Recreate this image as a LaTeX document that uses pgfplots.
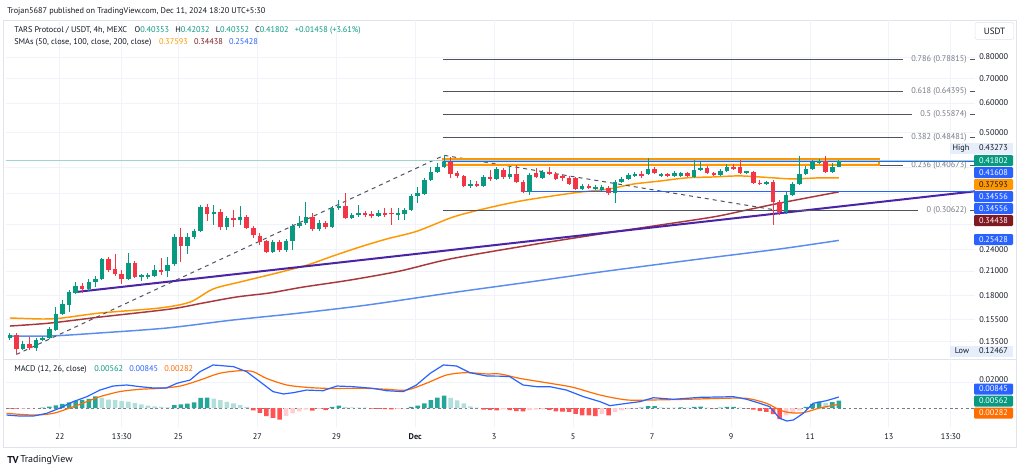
\documentclass[border=0pt]{standalone}
\usepackage{fontspec}
\setmainfont{PT Sans}
\usepackage{pgfplots}
\usepackage{pgfplotstable}
\pgfplotsset{compat=1.18}

\definecolor{tvgreen}{HTML}{089981}
\definecolor{tvred}{HTML}{F23645}
\definecolor{histdark}{HTML}{26A69A}
\definecolor{histlight}{HTML}{B2DFDB}
\definecolor{histred}{HTML}{FF5252}
\definecolor{histpink}{HTML}{FFCDD2}
\definecolor{tvblue}{HTML}{2962FF}
\definecolor{tvorange}{HTML}{FF9800}
\definecolor{macdorange}{HTML}{FF6D00}
\definecolor{tvmaroon}{HTML}{801922}
\definecolor{sma100}{HTML}{A8383B}
\definecolor{sma200}{HTML}{5B8DEF}
\definecolor{tvpurple}{HTML}{4A23A6}
\definecolor{tvgrid}{HTML}{F0F3FA}
\definecolor{tvframe}{HTML}{E0E3EB}
\definecolor{tvtext}{HTML}{131722}
\definecolor{tvgray}{HTML}{787B86}
\definecolor{fibgray}{HTML}{50535E}
\definecolor{hlbg}{HTML}{E6EEFB}

\newcommand\tvf{\fontsize{6.2}{7.4}\selectfont}

% 4h candles, k = candle index (k=126 is Dec 11 17:30)
\pgfplotstableread{
k o h l c
0 0.1382 0.1426 0.1364 0.1408
1 0.1408 0.1426 0.12467 0.1290
2 0.1290 0.1356 0.1282 0.1330
3 0.1330 0.1390 0.1282 0.1298
4 0.1298 0.1382 0.1274 0.1364
5 0.1364 0.1399 0.1356 0.1382
6 0.1382 0.1480 0.1373 0.1462
7 0.1453 0.1677 0.1444 0.1605
8 0.1605 0.1752 0.1595 0.1709
9 0.1698 0.1865 0.1626 0.1842
10 0.1831 0.1961 0.1819 0.1912
11 0.1912 0.1948 0.1831 0.1877
12 0.1877 0.1998 0.1854 0.1961
13 0.1961 0.2035 0.1900 0.1998
14 0.1998 0.2278 0.1985 0.2264
15 0.2264 0.2292 0.2087 0.2113
16 0.2126 0.2335 0.2035 0.2061
17 0.2061 0.2113 0.1936 0.1998
18 0.1998 0.2350 0.1985 0.2208
19 0.2208 0.2236 0.2010 0.2023
20 0.2023 0.2061 0.1973 0.2048
21 0.2023 0.2074 0.1998 0.2048
22 0.2035 0.2180 0.2023 0.2113
23 0.2113 0.2278 0.2048 0.2087
24 0.2100 0.2292 0.2023 0.2180
25 0.2194 0.2646 0.2167 0.2598
26 0.2598 0.2746 0.2222 0.2455
27 0.2455 0.2662 0.2335 0.2598
28 0.2598 0.2728 0.2566 0.2694
29 0.2694 0.3170 0.2678 0.3130
30 0.3130 0.3190 0.2872 0.2999
31 0.2999 0.3170 0.2800 0.3037
32 0.3037 0.3095 0.2710 0.2764
33 0.2764 0.2962 0.2710 0.2926
34 0.2926 0.3075 0.2764 0.2890
35 0.2890 0.3150 0.2800 0.2944
36 0.2944 0.2980 0.2728 0.2746
37 0.2746 0.2782 0.2582 0.2630
38 0.2614 0.2662 0.2470 0.2518
39 0.2534 0.2550 0.2350 0.2365
40 0.2365 0.2550 0.2350 0.2518
41 0.2518 0.2550 0.2365 0.2395
42 0.2395 0.2566 0.2365 0.2534
43 0.2534 0.2818 0.2395 0.2782
44 0.2782 0.2962 0.2746 0.2836
45 0.2836 0.3230 0.2800 0.2944
46 0.2944 0.3018 0.2694 0.2728
47 0.2728 0.2890 0.2694 0.2836
48 0.2836 0.2872 0.2728 0.2764
49 0.2764 0.3150 0.2746 0.3110
50 0.3110 0.3270 0.3075 0.3150
51 0.3150 0.3420 0.2908 0.2926
52 0.2926 0.3018 0.2908 0.2980
53 0.2980 0.3170 0.2944 0.3018
54 0.3018 0.3056 0.2944 0.2980
55 0.2999 0.3056 0.2926 0.2962
56 0.2962 0.3075 0.2944 0.3018
57 0.3018 0.3110 0.2944 0.2980
58 0.3018 0.3110 0.2800 0.2999
59 0.2980 0.3110 0.2890 0.3018
60 0.2999 0.3110 0.2890 0.3075
61 0.3075 0.3400 0.3056 0.3360
62 0.3360 0.3545 0.3210 0.3420
63 0.3400 0.3760 0.3380 0.3710
64 0.3710 0.4020 0.3685 0.3900
65 0.3900 0.4125 0.3880 0.4020
66 0.4020 0.43273 0.4000 0.4150
67 0.4150 0.4285 0.3760 0.3855
68 0.3880 0.3925 0.3760 0.3805
69 0.3805 0.3830 0.3545 0.3570
70 0.3570 0.3710 0.3525 0.3615
71 0.3615 0.3685 0.3545 0.3570
72 0.3570 0.3830 0.3545 0.3780
73 0.3780 0.3950 0.3685 0.3735
74 0.3735 0.4020 0.3710 0.3975
75 0.3950 0.4000 0.3735 0.3780
76 0.3780 0.4045 0.3735 0.3855
77 0.3855 0.4070 0.3640 0.3660
78 0.3660 0.3710 0.3420 0.3440
79 0.3440 0.3880 0.3380 0.3830
80 0.3880 0.4000 0.3760 0.3780
81 0.3760 0.3950 0.3735 0.3900
82 0.3900 0.4020 0.3830 0.3855
83 0.3855 0.3900 0.3710 0.3735
84 0.3805 0.3855 0.3685 0.3760
85 0.3760 0.3805 0.3590 0.3615
86 0.3760 0.3780 0.3480 0.3500
87 0.3500 0.3615 0.3480 0.3570
88 0.3570 0.3615 0.3500 0.3525
89 0.3500 0.3590 0.3480 0.3545
90 0.3480 0.3590 0.3460 0.3545
91 0.3525 0.3570 0.3380 0.3420
92 0.3420 0.3710 0.3210 0.3660
93 0.3660 0.3780 0.3640 0.3735
94 0.3735 0.3880 0.3710 0.3830
95 0.3805 0.3900 0.3780 0.3855
96 0.3855 0.3925 0.3760 0.3805
97 0.3855 0.4260 0.3830 0.3975
98 0.3975 0.4020 0.3855 0.3880
99 0.3805 0.3880 0.3780 0.3855
100 0.3855 0.3880 0.3780 0.3805
101 0.3805 0.3925 0.3780 0.3880
102 0.3805 0.3900 0.3780 0.3880
103 0.3880 0.3900 0.3780 0.3805
104 0.3780 0.4200 0.3760 0.3950
105 0.3950 0.4150 0.3925 0.4000
106 0.4000 0.4045 0.3855 0.3880
107 0.3880 0.3900 0.3805 0.3830
108 0.3830 0.3975 0.3805 0.3925
109 0.3925 0.4100 0.3900 0.4020
110 0.4020 0.4100 0.3950 0.3975
111 0.4020 0.4200 0.3855 0.3880
112 0.3880 0.3925 0.3855 0.3925
113 0.3900 0.3925 0.3615 0.3640
114 0.3640 0.3710 0.3590 0.3615
115 0.3615 0.3685 0.3590 0.3660
116 0.3660 0.3710 0.2800 0.3230
117 0.3230 0.3270 0.2980 0.3037
118 0.3037 0.3440 0.2999 0.3380
119 0.3380 0.3660 0.3360 0.3615
120 0.3615 0.4300 0.3590 0.3855
121 0.3855 0.4045 0.3830 0.3975
122 0.3975 0.4200 0.3950 0.4150
123 0.4125 0.4230 0.4100 0.4175
124 0.4175 0.4300 0.3880 0.3900
125 0.3900 0.4125 0.3880 0.4035
126 0.40353 0.42032 0.40352 0.41802
}\ohlc

% MACD histogram, t: 1 rising up, 2 falling up, 3 falling down, 4 rising down
\pgfplotstableread{
k v t
0 -0.0004 3
1 -0.0005 3
2 -0.0004 4
3 -0.0003 4
4 -0.0001 4
5 0.0003 1
6 0.0010 1
7 0.0020 1
8 0.0032 1
9 0.0043 1
10 0.0055 1
11 0.0063 1
12 0.0070 1
13 0.0090 1
14 0.0078 2
15 0.0065 2
16 0.0060 2
17 0.0052 2
18 0.0050 2
19 0.0038 2
20 0.0028 2
21 0.0019 2
22 0.0013 2
23 0.0008 2
24 0.0004 2
25 0.0022 1
26 0.0028 1
27 0.0033 1
28 0.0044 1
29 0.0078 1
30 0.0080 1
31 0.0072 2
32 0.0060 2
33 0.0048 2
34 0.0036 2
35 0.0022 2
36 0.0008 2
37 -0.0018 3
38 -0.0038 3
39 -0.0062 3
40 -0.0076 3
41 -0.0090 3
42 -0.0060 4
43 -0.0042 4
44 -0.0026 4
45 -0.0013 4
46 -0.0020 3
47 -0.0008 4
48 -0.0016 3
49 0.0008 1
50 0.0018 1
51 0.0006 2
52 0.0004 2
53 0.0003 2
54 0.0002 2
55 -0.0004 3
56 -0.0007 3
57 -0.0009 3
58 -0.0010 3
59 -0.0006 4
60 -0.0003 4
61 0.0008 1
62 0.0018 1
63 0.0036 1
64 0.0060 1
65 0.0080 1
66 0.0096 1
67 0.0078 2
68 0.0058 2
69 0.0035 2
70 0.0012 2
71 0.0003 2
72 -0.0012 3
73 -0.0014 3
74 -0.0019 3
75 -0.0010 4
76 -0.0016 3
77 -0.0024 3
78 -0.0026 3
79 -0.0016 4
80 -0.0013 4
81 -0.0010 4
82 -0.0014 3
83 -0.0026 3
84 -0.0027 3
85 -0.0030 3
86 -0.0046 3
87 -0.0056 3
88 -0.0057 3
89 -0.0062 3
90 -0.0046 4
91 -0.0056 3
92 -0.0032 4
93 -0.0019 4
94 -0.0009 4
95 -0.0003 4
96 0.0003 1
97 0.0014 1
98 0.0015 1
99 0.0005 2
100 0.0003 2
101 0.0002 2
102 0.0005 1
103 0.0003 2
104 0.0009 1
105 0.0010 1
106 0.0003 2
107 -0.0002 3
108 0.0003 1
109 0.0008 1
110 0.0009 1
111 0.0002 2
112 -0.0003 3
113 -0.0012 3
114 -0.0022 3
115 -0.0030 3
116 -0.0048 3
117 -0.0086 3
118 -0.0056 4
119 -0.0042 4
120 -0.0020 4
121 0.0008 1
122 0.0032 1
123 0.0049 1
124 0.0038 2
125 0.0046 1
126 0.00562 1
}\hist

\begin{document}
\begin{tikzpicture}
\path[use as bounding box] (0,0) rectangle (768pt,-354pt);
\begin{scope}[x=0.75pt,y=-0.75pt]
  \fill[white] (0,0) rectangle (1024,472);
  \draw[tvframe,line width=0.75pt] (3.5,20) rectangle (1016.5,447.5);
  \draw[tvframe,line width=0.75pt] (3.5,359.5) -- (1016.5,359.5);
\end{scope}

% ---------------- price pane ----------------
\begin{axis}[
  at={(4.5pt,-15pt)}, anchor=north west,
  scale only axis, width=726.75pt, height=255pt,
  xmin=-0.58, xmax=146.7,
  ymode=log, ymin=0.12041, ymax=1.00813,
  axis line style={draw=none}, tick style={draw=none},
  xtick={7.625,17,25.625,37.625,49.625,61.625,73.625,85.625,97.625,109.625,121.625,133.625,143},
  xticklabels={},
  ytick={0.135,0.155,0.18,0.21,0.24,0.28,0.34,0.40,0.5,0.6,0.7,0.8},
  yticklabels={0.13500,0.15500,0.18000,0.21000,0.24000,,,,0.50000,0.60000,0.70000,0.80000},
  yticklabel pos=right,
  yticklabel style={anchor=west, inner sep=0pt, xshift=3pt, font=\tvf, text=tvtext},
  grid=major, grid style={tvgrid, line width=0.75pt},
]
% moving averages
\addplot[sma200, line width=1.1pt, smooth] coordinates {
(0,0.1399) (6.1,0.1399) (13.7,0.1426) (23.9,0.1471) (33.9,0.1546) (44.1,0.1615)
(54.3,0.1698) (66.9,0.1831) (79,0.1961) (89.7,0.2087) (104.9,0.2264) (117,0.2410) (126,0.25428)};
\addplot[sma100, line width=1.1pt, smooth] coordinates {
(0,0.1489) (6.1,0.1517) (13.7,0.1575) (24.4,0.1656) (29.4,0.1720) (34.5,0.1786)
(39.5,0.1831) (44.6,0.1900) (51.7,0.1985) (59.3,0.2100) (66.9,0.2264) (79.1,0.2470)
(89.7,0.2646) (97.8,0.2782) (106.9,0.2944) (112,0.3075) (117,0.3210) (126,0.34438)};
\addplot[tvorange, line width=1.1pt, smooth] coordinates {
(0,0.1566) (5,0.1556) (8,0.1566) (13.7,0.1615) (22.8,0.1667) (27.4,0.1730) (30.9,0.1877)
(35,0.1961) (40.6,0.2074) (45.2,0.2180) (49.1,0.2306) (53.2,0.2440) (57.3,0.2566)
(61.9,0.2694) (67.4,0.2944) (72.5,0.3110) (77.5,0.3250) (82.6,0.3360) (86.7,0.3440)
(90.8,0.3500) (94.7,0.3615) (98.8,0.3685) (102.9,0.3760) (106.9,0.3780) (111,0.3805)
(116,0.3760) (119,0.3735) (123.1,0.3760) (126,0.37593)};
% drawings
\addplot[tvpurple, line width=1.5pt] coordinates {(10.06,0.1842) (146.7,0.3456)};
\addplot[fibgray, line width=0.75pt, dash pattern=on 3pt off 3pt] coordinates {(1,0.12467) (66,0.43273) (117,0.30622)};
\addplot[fibgray, line width=0.75pt, unbounded coords=jump] coordinates {
(65.8,0.78815) (135.7,0.78815) (140,nan) (145.9,0.78815) (146.7,0.78815)};
\addplot[fibgray, line width=0.75pt, unbounded coords=jump] coordinates {
(65.8,0.64395) (135.7,0.64395) (140,nan) (145.9,0.64395) (146.7,0.64395)};
\addplot[fibgray, line width=0.75pt, unbounded coords=jump] coordinates {
(65.8,0.55874) (137.1,0.55874) (140,nan) (145.9,0.55874) (146.7,0.55874)};
\addplot[fibgray, line width=0.75pt, unbounded coords=jump] coordinates {
(65.8,0.48481) (135.7,0.48481) (140,nan) (145.9,0.48481) (146.7,0.48481)};
\addplot[fibgray, line width=0.75pt, unbounded coords=jump] coordinates {
(65.8,0.40673) (135.7,0.40673) (140,nan) (145.9,0.40673) (146.7,0.40673)};
\addplot[fibgray, line width=0.75pt, unbounded coords=jump] coordinates {
(65.8,0.30622) (138.0,0.30622) (140,nan) (145.9,0.30622) (146.7,0.30622)};
\addplot[tvorange, line width=1.4pt, fill=tvorange, fill opacity=0.12] coordinates {
(65.8,0.4067) (132.1,0.4067) (132.1,0.4222) (65.8,0.4222) (65.8,0.4067)} -- cycle;
\addplot[tvgreen!40, line width=0.75pt] coordinates {(-0.58,0.41802) (146.7,0.41802)};
\addplot[tvblue, line width=1.1pt] coordinates {(65.8,0.41608) (146.7,0.41608)};
\addplot[tvblue, line width=1.1pt] coordinates {(78.3,0.34556) (146.7,0.34556)};
% candles: wicks then bodies
\addplot[draw=none, restrict expr to domain={\thisrow{c}-\thisrow{o}}{0:1},
  error bars/.cd, y dir=plus, y explicit, error mark=none,
  error bar style={draw=tvgreen, line width=0.75pt}]
  table[x=k, y=l, y error plus expr={\thisrow{h}-\thisrow{l}}] {\ohlc};
\addplot[draw=none, restrict expr to domain={\thisrow{c}-\thisrow{o}}{-1:-0.000001},
  error bars/.cd, y dir=plus, y explicit, error mark=none,
  error bar style={draw=tvred, line width=0.75pt}]
  table[x=k, y=l, y error plus expr={\thisrow{h}-\thisrow{l}}] {\ohlc};
\addplot[draw=none, restrict expr to domain={\thisrow{c}-\thisrow{o}}{0:1},
  error bars/.cd, y dir=plus, y explicit, error mark=none,
  error bar style={draw=tvgreen, line width=3.4pt}]
  table[x=k, y=o, y error plus expr={\thisrow{c}-\thisrow{o}}] {\ohlc};
\addplot[draw=none, restrict expr to domain={\thisrow{c}-\thisrow{o}}{-1:-0.000001},
  error bars/.cd, y dir=plus, y explicit, error mark=none,
  error bar style={draw=tvred, line width=3.4pt}]
  table[x=k, y=c, y error plus expr={\thisrow{o}-\thisrow{c}}] {\ohlc};
\end{axis}

% ---------------- MACD pane ----------------
\begin{axis}[
  at={(4.5pt,-271.5pt)}, anchor=north west,
  scale only axis, width=726.75pt, height=48.75pt,
  xmin=-0.58, xmax=146.7, ymin=-0.01462, ymax=0.03538,
  axis line style={draw=none}, tick style={draw=none},
  xtick={7.625,17,25.625,37.625,49.625,61.625,73.625,85.625,97.625,109.625,121.625,133.625,143},
  xticklabels={22,13:30,25,27,29,\textbf{Dec},3,5,7,9,11,13,13:30},
  xticklabel style={font=\tvf, text=tvtext, anchor=center, yshift=-7.5pt},
  ytick={0.02}, yticklabels={0.02000},
  yticklabel pos=right,
  yticklabel style={anchor=west, inner sep=0pt, xshift=3pt, yshift=1.5pt, font=\tvf, text=tvtext},
  grid=major, grid style={tvgrid, line width=0.75pt},
  scaled y ticks=false,
]
\addplot[tvgray, line width=0.6pt, dash pattern=on 2pt off 2pt] coordinates {(-0.58,0) (146.7,0)};
\addplot[ybar, bar width=3.4pt, bar shift=0pt, draw=none, fill=histdark,
  restrict expr to domain={\thisrow{t}}{0.5:1.5}] table[x=k, y=v] {\hist};
\addplot[ybar, bar width=3.4pt, bar shift=0pt, draw=none, fill=histlight,
  restrict expr to domain={\thisrow{t}}{1.5:2.5}] table[x=k, y=v] {\hist};
\addplot[ybar, bar width=3.4pt, bar shift=0pt, draw=none, fill=histred,
  restrict expr to domain={\thisrow{t}}{2.5:3.5}] table[x=k, y=v] {\hist};
\addplot[ybar, bar width=3.4pt, bar shift=0pt, draw=none, fill=histpink,
  restrict expr to domain={\thisrow{t}}{3.5:4.5}] table[x=k, y=v] {\hist};
\addplot[macdorange, line width=0.9pt, smooth] coordinates {
(-0.5,-0.0041) (3.58,-0.0054) (6.6,-0.0041) (9.65,0.0010) (11.7,0.0049) (13.7,0.0087)
(16.7,0.0126) (19.8,0.0144) (22.8,0.0151) (25.9,0.0169) (28.9,0.0215) (31.9,0.0267)
(35,0.0287) (37,0.0279) (39,0.0228) (42.1,0.0177) (45.1,0.0159) (48.1,0.0151)
(51.2,0.0151) (54.2,0.0151) (57.3,0.0144) (60.3,0.0138) (63.3,0.0190) (66.4,0.0254)
(69.4,0.0272) (72.5,0.0262) (74.5,0.0262) (77.5,0.0228) (82.1,0.0190) (85.6,0.0159)
(89.7,0.0100) (93.8,0.0062) (97.8,0.0062) (102.9,0.0067) (108,0.0074) (112,0.0074)
(115,0.0036) (117,-0.0015) (118.6,-0.0036) (120.6,-0.0036) (123.1,0) (126,0.00282)};
\addplot[tvblue, line width=0.9pt] coordinates {
(-0.5,-0.0054) (1.55,-0.0062) (3.58,-0.0062) (5.6,-0.0041) (7.63,0) (9.65,0.0049)
(11.7,0.0087) (13.7,0.0138) (15.7,0.0169) (17.76,0.0177) (19.8,0.0164) (21.8,0.0154)
(23.8,0.0154) (25.4,0.0190) (27.4,0.0215) (28.9,0.0279) (30.9,0.0331) (34,0.0318)
(36,0.0279) (38,0.0203) (40,0.0126) (41.6,0.0108) (43.1,0.0118) (45.1,0.0138)
(47.6,0.0133) (49.7,0.0169) (52.2,0.0164) (55.2,0.0151) (57.3,0.0133) (59.8,0.0126)
(61.8,0.0177) (63.9,0.0267) (65.9,0.0331) (67.9,0.0323) (69.9,0.0272) (72.5,0.0246)
(74.5,0.0245) (76,0.0241) (78,0.0177) (80.1,0.0164) (82.1,0.0164) (84.6,0.0138)
(87.2,0.0087) (89.7,0.0049) (91.2,0.0018) (93.8,0.0036) (95.8,0.0049) (97.8,0.0079)
(100.9,0.0067) (104.9,0.0082) (110,0.0087) (112,0.0067) (114,0.0036) (115.5,0.0010)
(117,-0.0079) (118.1,-0.0100) (119.1,-0.0092) (120.6,-0.0041) (122.1,0.0036)
(124.1,0.0056) (126,0.00845)};
\end{axis}

% ---------------- texts and price labels ----------------
\begin{scope}[x=0.75pt,y=-0.75pt, every node/.style={font=\tvf, inner sep=0pt}]
  \node[anchor=west, text=tvtext] at (7,11) {Trojan5687 published on TradingView.com, Dec 11, 2024 18:20 UTC+5:30};
  \node[anchor=west, text=tvtext] at (14,30.5) {TARS Protocol / USDT, 4h, MEXC\hspace{4pt}
    O\textcolor{tvgreen}{0.40353}\hspace{3pt} H\textcolor{tvgreen}{0.42032}\hspace{3pt}
    L\textcolor{tvgreen}{0.40352}\hspace{3pt} C\textcolor{tvgreen}{0.41802}\hspace{3pt}
    \textcolor{tvgreen}{+0.01458 (+3.61\%)}};
  \node[anchor=west, text=tvtext] at (14,42.5) {SMAs (50, close, 100, close, 200, close)\hspace{4pt}
    \textcolor{tvorange}{0.37593}\hspace{3pt} \textcolor{tvmaroon}{0.34438}\hspace{3pt}
    \textcolor{tvblue}{0.25428}};
  \node[anchor=west, text=tvtext] at (14,369.5) {MACD (12, 26, close)\hspace{4pt}
    \textcolor{tvgreen}{0.00562}\hspace{3pt} \textcolor{tvblue}{0.00845}\hspace{3pt}
    \textcolor{macdorange}{0.00282}};
  % fib labels
  \foreach \yy/\tt in {59.4/0.786 (0.78815), 91.7/0.618 (0.64395), 114.4/0.5 (0.55874),
                      137.1/0.382 (0.48481), 165.2/0.236 (0.40673), 210.6/0 (0.30622)}
    \node[anchor=east, text=tvgray] at (967,\yy) {\tt};
  % USDT box
  \node[draw=tvframe, fill=white, rounded corners=1.5pt, minimum width=29pt, minimum height=12.5pt,
        text=tvtext, font=\fontsize{6.8}{8}\selectfont] at (994.5,31) {USDT};
  % high / low
  \fill[hlbg] (950,142.5) rectangle (1013,153.5);
  \node[text=tvtext] at (961,148) {High};
  \node[text=tvtext] at (993.5,148) {0.43273};
  \fill[hlbg] (950,345.5) rectangle (1013,356.5);
  \node[text=tvtext] at (962,351) {Low};
  \node[text=tvtext] at (993.5,351) {0.12467};
  % price boxes
  \foreach \yy/\cc/\tc/\vv in {160.5/tvgreen/white/0.41802, 172.5/tvblue/white/0.41608,
      184.5/tvorange/tvtext/0.37593, 196.5/tvblue/white/0.34556, 208.5/tvblue/white/0.34556,
      220.5/tvmaroon/white/0.34438, 239.5/tvblue/white/0.25428,
      389/tvblue/white/0.00845, 401/tvgreen/white/0.00562, 413/macdorange/white/0.00282}
    \node[fill=\cc, text=\tc, minimum width=29.25pt, minimum height=8.25pt, rounded corners=0.8pt]
      at (993.5,\yy) {\vv};
  % logo
  \node[anchor=west, text=tvtext, font=\fontsize{7.5}{9}\selectfont\bfseries] at (7,460) {TV};
  \node[anchor=west, text=tvtext, font=\fontsize{7.5}{9}\selectfont] at (20,460) {TradingView};
\end{scope}
\end{tikzpicture}
\end{document}
